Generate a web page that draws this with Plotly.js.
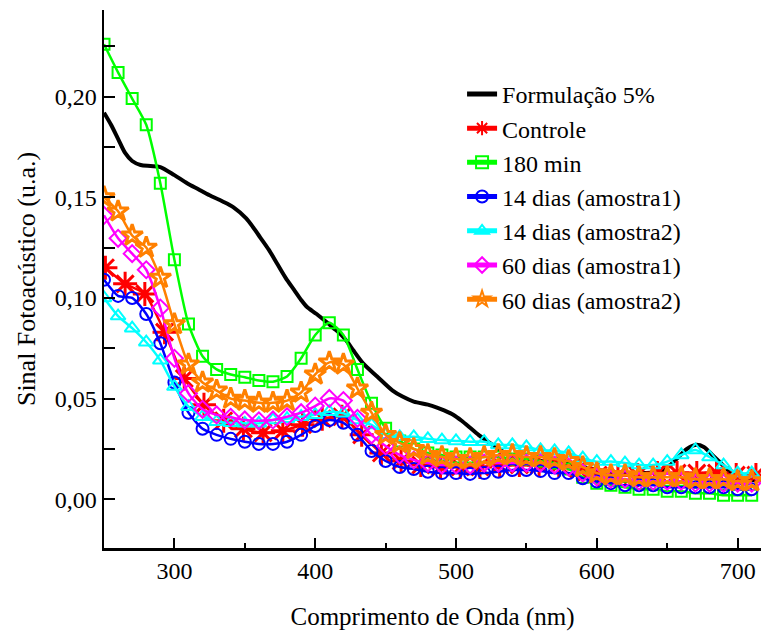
<!DOCTYPE html>
<html>
<head>
<meta charset="utf-8">
<script src="https://cdn.plot.ly/plotly-3.0.1.min.js"></script>
<style>html,body{margin:0;padding:0;background:#fff;}#chart{width:761px;height:631px;}</style>
</head>
<body>
<div id="chart"></div>
<script>
// ---- data ----
const names = ["Formulação 5%", "Controle", "180 min", "14 dias (amostra1)", "14 dias (amostra2)", "60 dias (amostra1)", "60 dias (amostra2)"];

const formX = [250,255,260,265,270,276,283,290,300,309,317,325,334,342,351,356,361,367,373,379,385,390,394,401,408,413,418,423,427,434,444,455,462,470,480,486,492,498,504,510,516,522,528,535,545,560,575,590,605,620,635,645,652,658,664,670,676,682,688,694,700,707,715];
const formY = [0.192,0.186,0.179,0.172,0.168,0.166,0.1655,0.165,0.161,0.157,0.154,0.151,0.148,0.145,0.1395,0.135,0.130,0.124,0.117,0.110,0.104,0.099,0.0956,0.092,0.088,0.085,0.082,0.078,0.074,0.0675,0.061,0.054,0.051,0.0485,0.047,0.0457,0.044,0.042,0.039,0.0355,0.032,0.029,0.026,0.023,0.021,0.019,0.018,0.016,0.014,0.013,0.013,0.014,0.017,0.021,0.025,0.027,0.026,0.022,0.018,0.014,0.011,0.010,0.009];

const ctrlX = [251,265,279,293,307,321,335,349,363,377,391,405,419,433,447,461,475,489,503,517,531,545,559,573,587,601,615,629,643,657,671,685,699,713];
const ctrlY = [0.115,0.107,0.102,0.083,0.060,0.047,0.039,0.035,0.033,0.034,0.037,0.040,0.041,0.032,0.023,0.019,0.017,0.016,0.016,0.016,0.017,0.017,0.017,0.017,0.015,0.012,0.012,0.012,0.013,0.013,0.013,0.013,0.012,0.012];

// wavelengths (nm) shared by the 10 nm sampled series
const wl = [250,260,270,280,290,300,310,320,330,340,350,360,370,380,390,400,410,420,430,440,450,460,470,480,490,500,510,520,530,540,550,560,570,580,590,600,610,620,630,640,650,660,670,680,690,700,710];

const min180 = [0.226,0.212,0.199,0.186,0.157,0.119,0.087,0.071,0.0645,0.062,0.0606,0.059,0.0584,0.061,0.070,0.0816,0.0877,0.0816,0.0645,0.0477,0.0353,0.029,0.025,0.023,0.022,0.021,0.021,0.021,0.021,0.020,0.020,0.019,0.018,0.015,0.011,0.008,0.007,0.006,0.005,0.005,0.004,0.004,0.003,0.003,0.002,0.002,0.002];

const d14a1 = [0.109,0.101,0.100,0.092,0.0775,0.058,0.043,0.035,0.032,0.030,0.0286,0.0275,0.0275,0.0286,0.032,0.0364,0.0394,0.038,0.032,0.024,0.019,0.016,0.015,0.0137,0.013,0.013,0.0126,0.013,0.0137,0.0145,0.0145,0.014,0.013,0.013,0.0104,0.0088,0.008,0.007,0.007,0.007,0.006,0.006,0.006,0.006,0.006,0.005,0.005];

const d14a2 = [0.100,0.091,0.085,0.078,0.069,0.056,0.046,0.041,0.0385,0.038,0.0377,0.0377,0.0394,0.040,0.041,0.042,0.0435,0.0427,0.0394,0.0369,0.032,0.031,0.031,0.030,0.0294,0.029,0.0286,0.0286,0.027,0.027,0.026,0.0245,0.024,0.023,0.0204,0.0187,0.0187,0.018,0.017,0.017,0.0187,0.022,0.0245,0.021,0.017,0.013,0.013];

const d60a1 = [0.141,0.1296,0.122,0.114,0.095,0.070,0.0526,0.0447,0.0419,0.0407,0.0394,0.039,0.0394,0.041,0.043,0.0463,0.0501,0.049,0.0402,0.032,0.0265,0.022,0.0195,0.018,0.017,0.017,0.017,0.018,0.018,0.018,0.018,0.018,0.017,0.016,0.013,0.011,0.010,0.010,0.009,0.009,0.009,0.009,0.008,0.008,0.008,0.008,0.008];

const d60a2 = [0.150,0.143,0.131,0.125,0.110,0.087,0.067,0.058,0.054,0.050,0.049,0.048,0.048,0.049,0.053,0.062,0.068,0.067,0.055,0.043,0.032,0.028,0.025,0.022,0.021,0.020,0.020,0.021,0.022,0.022,0.021,0.021,0.020,0.019,0.016,0.013,0.012,0.012,0.011,0.011,0.011,0.011,0.010,0.010,0.010,0.009,0.009];

// ---- traces ----
function mk(x, y, name, color, symbol, size, mlw) {
  return {
    x: x, y: y, name: name, type: 'scatter', mode: 'lines+markers',
    line: {color: color, width: 2.5, shape: 'spline', smoothing: 0.6},
    marker: {symbol: symbol, size: size, color: color, line: {color: color, width: mlw}}
  };
}
const traces = [
  {x: formX, y: formY, name: names[0], type: 'scatter', mode: 'lines',
   line: {color: '#000000', width: 4, shape: 'spline', smoothing: 0.8}},
  mk(ctrlX, ctrlY, names[1], '#ff0000', 'asterisk-open', 20, 3),
  mk(wl, min180, names[2], '#00ff00', 'square-open', 11, 2),
  mk(wl, d14a1, names[3], '#0000ff', 'circle-open', 12, 2),
  mk(wl, d14a2, names[4], '#00ffff', 'triangle-up-open', 13, 2),
  mk(wl, d60a1, names[5], '#ff00ff', 'diamond-open', 13, 2),
  mk(wl, d60a2, names[6], '#ff8000', 'star-open', 16, 3)
];

const font = '"Times New Roman", "Liberation Serif", Times, serif';
const layout = {
  width: 761, height: 631,
  margin: {l: 104, r: 0, t: 10, b: 83, pad: 0},
  paper_bgcolor: '#ffffff', plot_bgcolor: '#ffffff',
  separators: ',.',
  showlegend: true,
  font: {family: font, size: 24, color: '#000000'},
  legend: {
    x: 0.545, y: 0.885, xanchor: 'left', yanchor: 'top',
    bgcolor: 'rgba(0,0,0,0)', borderwidth: 0,
    itemsizing: 'constant',
    font: {family: font, size: 24, color: '#000000'},
    tracegroupgap: 0
  },
  xaxis: {
    range: [250, 716.6], showgrid: false, zeroline: false,
    showline: true, linecolor: '#000000', linewidth: 2.5, mirror: false,
    ticks: 'inside', ticklen: 10, tickwidth: 2, tickcolor: '#000000',
    tick0: 300, dtick: 100,
    minor: {dtick: 50, tick0: 250, ticks: 'inside', ticklen: 5, tickwidth: 2, tickcolor: '#000000', showgrid: false},
    tickfont: {family: font, size: 24, color: '#000000'},
    title: {text: 'Comprimento de Onda (nm)', font: {family: font, size: 25, color: '#000000'}, standoff: 26}
  },
  yaxis: {
    range: [-0.0242, 0.243], showgrid: false, zeroline: false,
    showline: true, linecolor: '#000000', linewidth: 2.5, mirror: false,
    ticks: 'inside', ticklen: 11, tickwidth: 2, tickcolor: '#000000',
    tick0: 0, dtick: 0.05, tickformat: '.2f',
    minor: {dtick: 0.025, tick0: 0, ticks: 'inside', ticklen: 11, tickwidth: 2, tickcolor: '#000000', showgrid: false},
    tickfont: {family: font, size: 24, color: '#000000'},
    title: {text: 'Sinal Fotoacústico (u.a.)', font: {family: font, size: 26, color: '#000000'}, standoff: 12}
  }
};

Plotly.newPlot('chart', traces, layout, {displayModeBar: false, staticPlot: true});
</script>
</body>
</html>
